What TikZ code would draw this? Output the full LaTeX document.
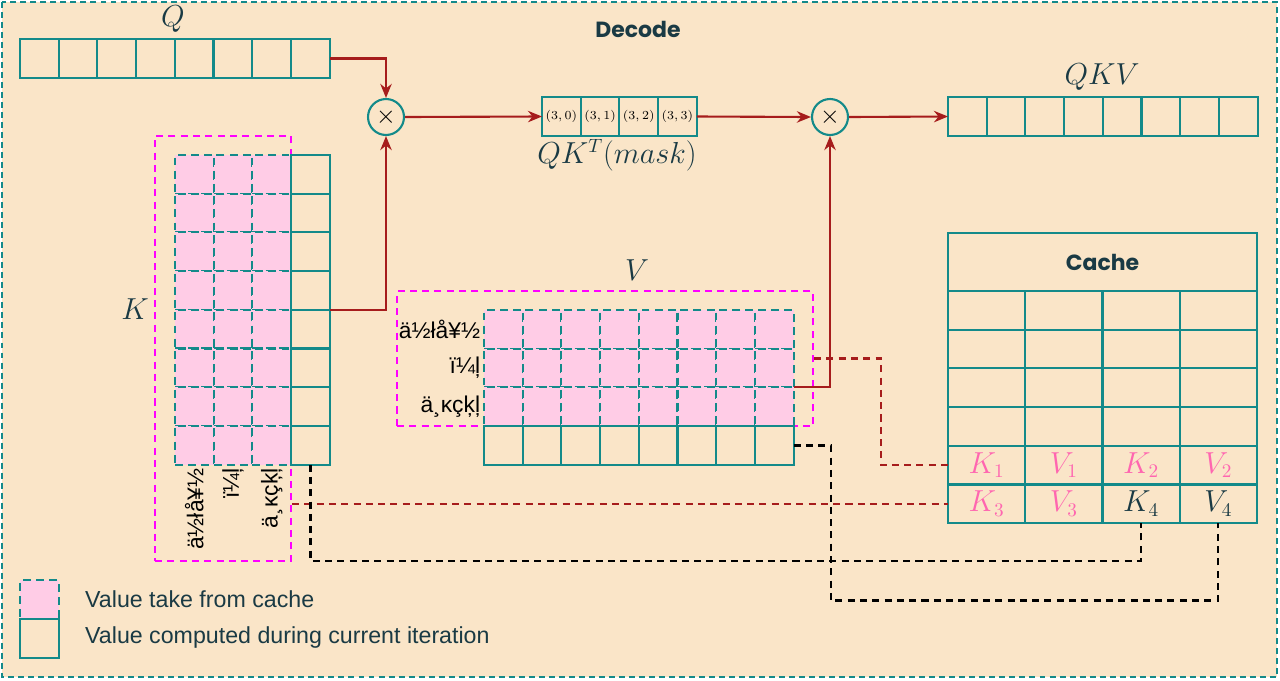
\documentclass[tikz,border=0pt]{standalone}
\usepackage{fontspec}
\setmainfont{Liberation Sans}
\newfontfamily\titlefont{Poppins}
\usetikzlibrary{arrows.meta,positioning,calc}

\definecolor{bgcream}{HTML}{FAE5C8}
\definecolor{tealline}{HTML}{138A8A}
\definecolor{cachepink}{HTML}{FFCCE6}
\definecolor{arrowred}{HTML}{A61C1C}
\definecolor{inkdark}{HTML}{1A3A44}
\definecolor{labelpink}{HTML}{FF66B0}
\definecolor{groupmagenta}{HTML}{FF00FF}

\tikzset{
  cell/.style={draw=tealline, line width=1.2pt, minimum size=0.774cm, inner sep=0pt, outer sep=0pt},
  oldcell/.style={cell, fill=cachepink, dash pattern=on 4.5pt off 3pt},
  cachecell/.style={cell, minimum width=1.545cm, minimum height=0.774cm},
  mult/.style={circle, draw=tealline, line width=1.2pt, minimum size=0.72cm, inner sep=0pt, font=\Large},
  flow/.style={draw=arrowred, line width=1.2pt, -{Stealth[length=8pt,width=6.5pt]}},
  cachelink/.style={draw=arrowred, line width=1.2pt, dash pattern=on 4pt off 3pt},
  computed/.style={draw=black, line width=1.2pt, dash pattern=on 4pt off 3pt},
  groupbox/.style={draw=groupmagenta, line width=1.2pt, dash pattern=on 4pt off 3pt, inner sep=0pt},
  mathlbl/.style={font=\fontsize{16}{19}\selectfont, text=inkdark},
  titletxt/.style={font=\titlefont\bfseries\fontsize{12.5}{15}\selectfont, text=inkdark},
  wordlbl/.style={font=\fontsize{13}{15}\selectfont, text=black, inner sep=2pt}
}

\begin{document}
\begin{tikzpicture}[x=0.02cm, y=-0.02cm]
\useasboundingbox (0,0) rectangle (1280,680);

% Frame
\draw[tealline, line width=1.2pt, dash pattern=on 3.4pt off 2.3pt, fill=bgcream] (2,2) rectangle (1277,677);
\node[titletxt] (title) at (638,29) {Decode};

% Q
\node[mathlbl] (qlbl) at (173,19) {$Q$};
\foreach \i in {0,...,7} {
    \node[cell] (q\i) at ({39.35+38.7*\i},58.5) {};
}

% K
\node[groupbox, minimum width=2.72cm, minimum height=8.5cm] (kbox) at (223,348.5) {};
\node[mathlbl] (klbl) at (135,309) {$K$};
\foreach \r in {0,...,7} {
    \foreach \c in {0,1,2} {
        \node[oldcell] (k\r\c) at ({194.35+38.7*\c},{174.35+38.7*\r}) {};
    }
    \node[cell] (k\r3) at (310.45,{174.35+38.7*\r}) {};
}
\node[wordlbl, rotate=90, anchor=east] (kw0) at (k70.south) {ä½łå¥½};
\node[wordlbl, rotate=90, anchor=east] (kw1) at (k71.south) {ï¼ļ};
\node[wordlbl, rotate=90, anchor=east] (kw2) at (k72.south) {ä¸ĸçķļ};

% V
\node[groupbox, minimum width=8.32cm, minimum height=2.7cm] (vbox) at (605,358.5) {};
\node[mathlbl] (vlbl) at (637,270) {$V$};
\foreach \c in {0,...,7} {
    \foreach \r in {0,1,2} {
        \node[oldcell] (v\r\c) at ({503.35+38.7*\c},{329.35+38.7*\r}) {};
    }
}
\foreach \c in {0,...,7} {
    \node[cell] (v3\c) at ({503.35+38.7*\c},445.45) {};
}
\node[wordlbl, anchor=east] (vw0) at (v00.west) {ä½łå¥½};
\node[wordlbl, anchor=east] (vw1) at (v10.west) {ï¼ļ};
\node[wordlbl, anchor=east] (vw2) at (v20.west) {ä¸ĸçķļ};

% Multiply and results
\node[mult] (mul1) at (386,117) {$\times$};
\node[mult] (mul2) at (830,117) {$\times$};
\foreach \i/\lbl in {0/{(3,0)}, 1/{(3,1)}, 2/{(3,2)}, 3/{(3,3)}} {
    \node[cell, font=\fontsize{7.5}{8}\selectfont] (qk\i) at ({561.35+38.7*\i},116.5) {$\lbl$};
}
\node[mathlbl] (qklbl) at (617,155) {$QK^T(mask)$};
\foreach \i in {0,...,7} {
    \node[cell] (qkv\i) at ({967.35+38.7*\i},116.5) {};
}
\node[mathlbl] (qkvlbl) at (1102,77) {$QKV$};

% Cache table
\node[cell, minimum width=6.18cm, minimum height=1.16cm, titletxt] (cachehead) at (1102.5,262) {Cache};
\foreach \r in {0,...,5} {
    \foreach \c in {0,...,3} {
        \node[cachecell, mathlbl] (ca\r\c) at ({986.6+77.25*\c},{310.35+38.7*\r}) {};
    }
}
\node[mathlbl, text=labelpink] at (ca40) {$K_1$};
\node[mathlbl, text=labelpink] at (ca41) {$V_1$};
\node[mathlbl, text=labelpink] at (ca42) {$K_2$};
\node[mathlbl, text=labelpink] at (ca43) {$V_2$};
\node[mathlbl, text=labelpink] at (ca50) {$K_3$};
\node[mathlbl, text=labelpink] at (ca51) {$V_3$};
\node[mathlbl] at (ca52) {$K_4$};
\node[mathlbl] at (ca53) {$V_4$};

% Attention flow
\draw[flow] (q7.east) -| (mul1.north);
\draw[flow] (k33.south east) -| (mul1.south);
\draw[flow] (mul1.east) -- (qk0.west);
\draw[flow] (qk3.east) -- (mul2.west);
\draw[flow] (v17.south east) -| (mul2.south);
\draw[flow] (mul2.east) -- (qkv0.west);

% Links to cache
\draw[cachelink] (vbox.east) -- ++(67,0) |- (ca40.west);
\draw[cachelink] (kbox.east |- ca50.west) -- (ca50.west);
\draw[computed] (k73.south) -- ++(0,96) -| (ca52.south);
\draw[computed] (v37.east) -- ++(37,0) -- ++(0,155) -| (ca53.south);

% Legend
\node[oldcell] (legold) at (39.5,599.5) {};
\node[cell] (legnew) at (39.5,638.5) {};
\node[anchor=west, text=inkdark, font=\fontsize{13.2}{15}\selectfont] (legoldtxt) at (79,599) {Value take from cache};
\node[anchor=west, text=inkdark, font=\fontsize{13.2}{15}\selectfont] (legnewtxt) at (79,637) {Value computed during current iteration};
\end{tikzpicture}
\end{document}
